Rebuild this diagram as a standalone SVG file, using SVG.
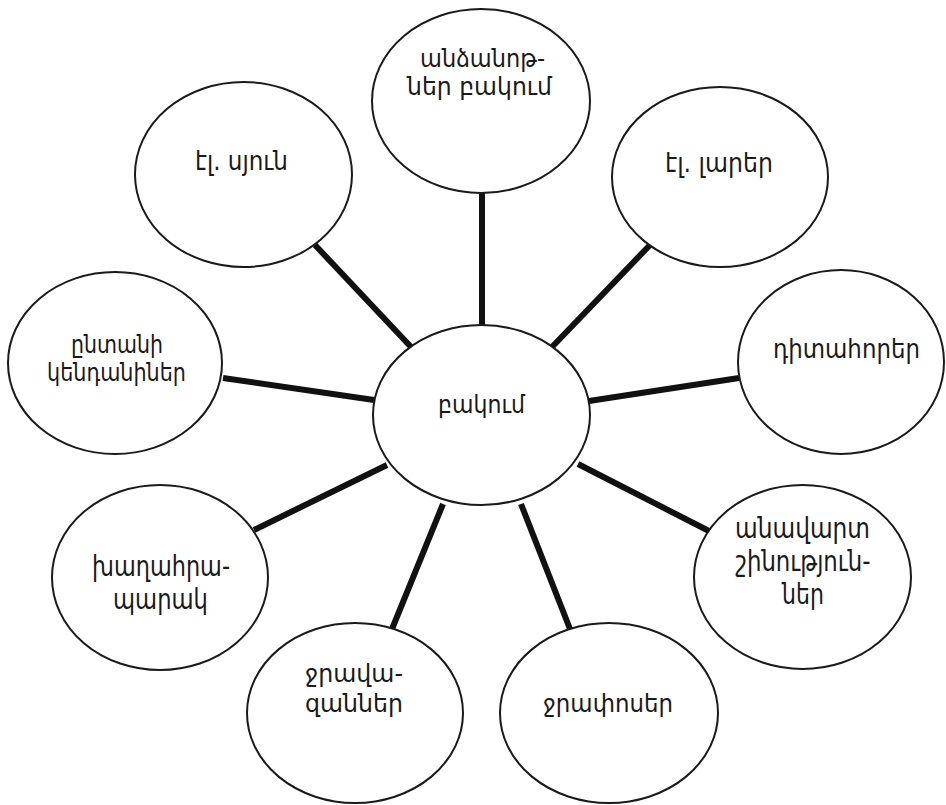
<svg xmlns="http://www.w3.org/2000/svg" width="946" height="805" viewBox="0 0 946 805">
  <style>
    .node ellipse { fill: #ffffff; stroke: #1a1a1a; stroke-width: 2; }
    .node text { font-family: "DejaVu Sans", "Liberation Sans", sans-serif; font-size: 25px; fill: #1a1a1a; text-anchor: middle; }
    .node text.mid { font-size: 27px; }
    .node text.big { font-size: 28px; }
    #links line { stroke: #111111; stroke-width: 6; stroke-linecap: butt; }
  </style>
  <rect width="946" height="805" fill="#ffffff"/>

  <!-- spokes from the hub to each outer ellipse -->
  <g id="links">
    <line x1="482" y1="192" x2="482" y2="326"/>
    <line x1="315" y1="245" x2="412" y2="348"/>
    <line x1="650" y1="245" x2="552" y2="347"/>
    <line x1="223" y1="378" x2="374" y2="400"/>
    <line x1="739" y1="378" x2="589" y2="401"/>
    <line x1="254" y1="530" x2="387" y2="465"/>
    <line x1="709" y1="531" x2="578" y2="464"/>
    <line x1="392" y1="629" x2="443" y2="504"/>
    <line x1="570" y1="629" x2="521" y2="504"/>
  </g>

  <g id="hub" class="node">
    <ellipse cx="481.5" cy="415" rx="108.5" ry="90"/>
    <text x="481.5" y="413" textLength="87" lengthAdjust="spacingAndGlyphs">բակում</text>
  </g>

  <g id="strangers" class="node">
    <ellipse cx="481" cy="101" rx="109" ry="92"/>
    <text x="482.5" y="67" textLength="125" lengthAdjust="spacingAndGlyphs">անձանոթ-</text>
    <text x="479.5" y="95" textLength="145" lengthAdjust="spacingAndGlyphs">ներ բակում</text>
  </g>

  <g id="power-pole" class="node">
    <ellipse cx="243.5" cy="174.5" rx="108.5" ry="92.5"/>
    <text class="mid" x="241.5" y="170" textLength="93" lengthAdjust="spacingAndGlyphs">էլ. սյուն</text>
  </g>

  <g id="power-lines" class="node">
    <ellipse cx="720" cy="177" rx="108" ry="90"/>
    <text class="mid" x="719" y="172" textLength="108" lengthAdjust="spacingAndGlyphs">էլ. լարեր</text>
  </g>

  <g id="pets" class="node">
    <ellipse cx="115" cy="363" rx="107" ry="91"/>
    <text x="117" y="353" textLength="92" lengthAdjust="spacingAndGlyphs">ընտանի</text>
    <text x="116.5" y="381" textLength="139" lengthAdjust="spacingAndGlyphs">կենդանիներ</text>
  </g>

  <g id="manholes" class="node">
    <ellipse cx="841" cy="362" rx="103" ry="92"/>
    <text class="mid" x="846.5" y="358" textLength="147" lengthAdjust="spacingAndGlyphs">դիտահորեր</text>
  </g>

  <g id="playground" class="node">
    <ellipse cx="160" cy="577.5" rx="108" ry="92.5"/>
    <text class="big" x="161" y="576" textLength="138" lengthAdjust="spacingAndGlyphs">խաղահրա-</text>
    <text class="big" x="160.5" y="609" textLength="95" lengthAdjust="spacingAndGlyphs">պարակ</text>
  </g>

  <g id="unfinished-buildings" class="node">
    <ellipse cx="802.5" cy="577" rx="108.5" ry="92"/>
    <text class="big" x="802.5" y="538" textLength="135" lengthAdjust="spacingAndGlyphs">անավարտ</text>
    <text class="big" x="803" y="571" textLength="135" lengthAdjust="spacingAndGlyphs">շինություն-</text>
    <text class="big" x="803" y="604" textLength="42" lengthAdjust="spacingAndGlyphs">ներ</text>
  </g>

  <g id="drains" class="node">
    <ellipse cx="355" cy="713" rx="108" ry="90"/>
    <text x="354" y="682" textLength="98" lengthAdjust="spacingAndGlyphs">ջրավա-</text>
    <text x="354" y="712" textLength="98" lengthAdjust="spacingAndGlyphs">զաններ</text>
  </g>

  <g id="puddles" class="node">
    <ellipse cx="609" cy="713" rx="109" ry="90"/>
    <text x="608" y="712" textLength="130" lengthAdjust="spacingAndGlyphs">ջրափոսեր</text>
  </g>
</svg>
